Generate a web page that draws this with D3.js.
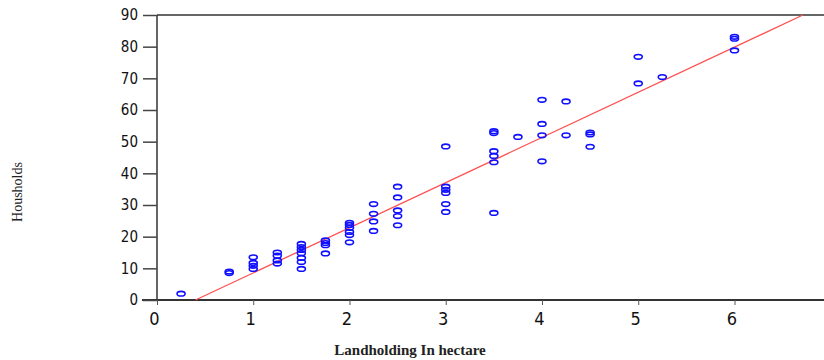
<!DOCTYPE html>
<html>
<head>
<meta charset="utf-8">
<script src="https://cdn.jsdelivr.net/npm/d3@7/dist/d3.min.js"></script>
<style>
  html, body { margin: 0; padding: 0; background: #fff; }
  svg { display: block; }
</style>
</head>
<body>
<svg id="chart" width="824" height="360"></svg>
<script>
// ---- data ----
const landholding = [
  0.25,
  0.75, 0.75,
  1, 1, 1, 1,
  1.25, 1.25, 1.25, 1.25,
  1.5, 1.5, 1.5, 1.5, 1.5, 1.5, 1.5,
  1.75, 1.75, 1.75, 1.75,
  2, 2, 2, 2, 2, 2,
  2.25, 2.25, 2.25, 2.25,
  2.5, 2.5, 2.5, 2.5, 2.5,
  3, 3, 3, 3, 3, 3,
  3.5, 3.5, 3.5, 3.5, 3.5, 3.5,
  3.75,
  4, 4, 4, 4,
  4.25, 4.25,
  4.5, 4.5, 4.5,
  5, 5,
  5.25,
  6, 6, 6
];
const households = [
  2,
  8.5, 9,
  13.5, 11.7, 10.8, 9.8,
  15, 14, 12.5, 11.5,
  17.7, 16.7, 15.8, 14.8, 13.3, 12, 9.8,
  18.8, 18, 17.3, 14.7,
  24.4, 23.7, 22.8, 21.5, 20.5, 18.2,
  30.3, 27.2, 24.8, 21.8,
  35.8, 32.4, 28.3, 26.5, 23.6,
  48.5, 35.8, 34.8, 33.8, 30.3, 27.8,
  53.3, 52.7, 47, 45.5, 43.5, 27.5,
  51.5,
  63.2, 55.6, 52, 43.8,
  62.7, 52,
  52.9, 52.3, 48.4,
  76.8, 68.4,
  70.4,
  83.1, 82.5, 78.8
];
const xTicks = [0, 1, 2, 3, 4, 5, 6];
const yTicks = [0, 10, 20, 30, 40, 50, 60, 70, 80, 90];
const fitIntercept = [-5.7];
const fitSlope = [14.26];
const xTitle = "Landholding In hectare";
const yTitle = "Housholds";

// ---- drawing ----
const svg = d3.select("#chart");
const x = d3.scaleLinear().domain([0, 6.93]).range([157, 824]);
const y = d3.scaleLinear().domain([0, 90]).range([300, 15]);
const narrow = "'Liberation Sans Narrow', 'Arial Narrow', 'DejaVu Sans Condensed', sans-serif";

// frame lines
svg.append("line").attr("x1", x(0)).attr("x2", 824).attr("y1", y(90)).attr("y2", y(90))
  .attr("stroke", "#333").attr("stroke-width", 1.5);
svg.append("line").attr("x1", x(0)).attr("x2", x(0)).attr("y1", y(90)).attr("y2", y(0))
  .attr("stroke", "#333").attr("stroke-width", 1.5);
svg.append("line").attr("x1", 142).attr("x2", 824).attr("y1", y(0)).attr("y2", y(0))
  .attr("stroke", "#333").attr("stroke-width", 2);

// y axis
const yAxis = svg.append("g").attr("transform", `translate(${x(0)},0)`)
  .call(d3.axisLeft(y).tickValues(yTicks).tickSize(14).tickPadding(5).tickFormat(d3.format("d")));
yAxis.select(".domain").remove();
yAxis.selectAll(".tick line").attr("stroke", "#444").attr("stroke-width", 1.5);
yAxis.selectAll(".tick text").attr("font-family", narrow).attr("font-size", 15).attr("fill", "#111");

// x axis
const xAxis = svg.append("g").attr("transform", `translate(0,${y(0)})`)
  .call(d3.axisBottom(x).tickValues(xTicks).tickSize(5).tickPadding(7).tickFormat(d3.format("d")));
xAxis.select(".domain").remove();
xAxis.selectAll(".tick line").attr("stroke", "#555").attr("stroke-width", 1);
xAxis.selectAll(".tick text").attr("font-family", narrow).attr("font-size", 18).attr("fill", "#111").attr("dx", -3);

// titles
svg.append("text").attr("x", 410).attr("y", 355).attr("text-anchor", "middle")
  .attr("font-family", "'Liberation Serif', 'DejaVu Serif', serif").attr("font-size", 15)
  .attr("font-weight", "bold").attr("fill", "#222").text(xTitle);
svg.append("text").attr("transform", "translate(22,192) rotate(-90)").attr("text-anchor", "middle")
  .attr("font-family", "'Liberation Serif', 'DejaVu Serif', serif").attr("font-size", 14)
  .attr("fill", "#222").text(yTitle);

// fitted line
const a = fitIntercept[0], b = fitSlope[0];
const xStart = -a / b, xEnd = (90 - a) / b;
svg.append("line")
  .attr("x1", x(xStart)).attr("y1", y(a + b * xStart))
  .attr("x2", x(xEnd)).attr("y2", y(a + b * xEnd))
  .attr("stroke", "#ff5050").attr("stroke-width", 1.3);

// points
const pts = landholding.map((v, i) => ({ x: v, y: households[i] }));
svg.append("g").selectAll("ellipse").data(pts).join("ellipse")
  .attr("cx", d => x(d.x)).attr("cy", d => y(d.y))
  .attr("rx", 4).attr("ry", 2.3)
  .attr("fill", "none").attr("stroke", "#1010ff").attr("stroke-width", 1.6);
</script>
</body>
</html>
